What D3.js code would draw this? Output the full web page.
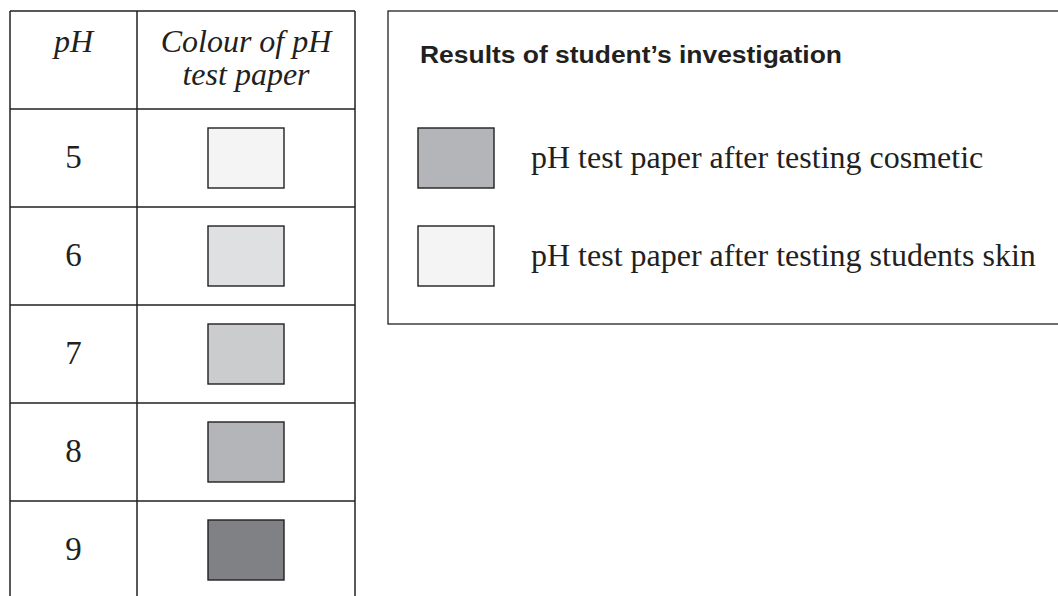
<!DOCTYPE html>
<html>
<head>
<meta charset="utf-8">
<script src="https://cdn.jsdelivr.net/npm/d3@7"></script>
<style>
  body { margin: 0; background: #fff; }
  svg { display: block; }
</style>
</head>
<body>
<div class="chart"></div>
<script>
const width = 1058;
const height = 596;

// data
const phValues = [5, 6, 7, 8, 9];
const paperColours = ['#f4f4f4', '#dfe0e2', '#cbcccd', '#b4b5b8', '#808184'];
const headerLines = [['pH'], ['Colour of pH', 'test paper']];
const legendTitle = 'Results of student\u2019s investigation';
const legendLabels = ['pH test paper after testing cosmetic', 'pH test paper after testing students skin'];
const legendColours = ['#b4b5b8', '#f4f4f4'];

const serif = '"Liberation Serif", "Times New Roman", serif';
const ink = '#231f20';

const svg = d3
  .select('.chart')
  .append('svg')
  .attr('width', width)
  .attr('height', height);

// table
const tableLeft = 10;
const colSplit = 137;
const tableRight = 355;
const tableTop = 11;
const headerBottom = 109;
const rowH = 98;

const y = d3
  .scaleBand()
  .domain(phValues)
  .range([headerBottom, headerBottom + rowH * phValues.length]);
const colour = d3.scaleOrdinal().domain(phValues).range(paperColours);

const table = svg.append('g');

// swatches
table
  .selectAll('.paper')
  .data(phValues)
  .enter()
  .append('rect')
  .attr('class', 'paper')
  .attr('x', 208)
  .attr('y', d => y(d) + 19)
  .attr('width', 76)
  .attr('height', 60)
  .attr('fill', d => colour(d))
  .attr('stroke', ink)
  .attr('stroke-width', 1.4);

table
  .selectAll('.ph')
  .data(phValues)
  .enter()
  .append('text')
  .attr('class', 'ph')
  .attr('x', (tableLeft + colSplit) / 2)
  .attr('y', d => y(d) + y.bandwidth() / 2 + 10)
  .attr('text-anchor', 'middle')
  .style('font-family', serif)
  .style('font-size', '33px')
  .attr('fill', ink)
  .text(d => d);

// header
const headerX = [(tableLeft + colSplit) / 2, (colSplit + tableRight) / 2];
headerLines.forEach((lines, i) => {
  table
    .append('text')
    .attr('x', headerX[i])
    .attr('y', 52)
    .attr('text-anchor', 'middle')
    .style('font-family', serif)
    .style('font-style', 'italic')
    .style('font-size', '32px')
    .attr('fill', ink)
    .selectAll('tspan')
    .data(lines)
    .enter()
    .append('tspan')
    .attr('x', headerX[i])
    .attr('dy', (d, j) => (j === 0 ? 0 : 33))
    .text(d => d);
});

// grid lines
const rowLines = [tableTop, headerBottom].concat(phValues.slice(1).map(d => y(d)));
table
  .selectAll('.hline')
  .data(rowLines)
  .enter()
  .append('line')
  .attr('x1', tableLeft)
  .attr('x2', tableRight)
  .attr('y1', d => d)
  .attr('y2', d => d)
  .attr('stroke', ink)
  .attr('stroke-width', 1.5);
table
  .selectAll('.vline')
  .data([tableLeft, colSplit, tableRight])
  .enter()
  .append('line')
  .attr('x1', d => d)
  .attr('x2', d => d)
  .attr('y1', tableTop)
  .attr('y2', height + 5)
  .attr('stroke', ink)
  .attr('stroke-width', 1.5);

// legend box
const legend = svg.append('g');
legend
  .append('rect')
  .attr('x', 388)
  .attr('y', 11)
  .attr('width', 700)
  .attr('height', 313)
  .attr('fill', 'none')
  .attr('stroke', ink)
  .attr('stroke-width', 1.3);

legend
  .append('text')
  .attr('x', 420)
  .attr('y', 63)
  .attr('textLength', 422)
  .attr('lengthAdjust', 'spacingAndGlyphs')
  .style('font-family', '"Liberation Sans", Arial, sans-serif')
  .style('font-weight', 'bold')
  .style('font-size', '23px')
  .attr('fill', ink)
  .text(legendTitle);

const ly = d3.scalePoint().domain(legendLabels).range([128, 226]);

const items = legend
  .selectAll('.item')
  .data(legendLabels)
  .enter()
  .append('g')
  .attr('class', 'item')
  .attr('transform', d => `translate(418, ${ly(d)})`);

items
  .append('rect')
  .attr('width', 76)
  .attr('height', 60)
  .attr('fill', (d, i) => legendColours[i])
  .attr('stroke', ink)
  .attr('stroke-width', 1.4);

items
  .append('text')
  .attr('x', 113)
  .attr('y', 40)
  .style('font-family', serif)
  .style('font-size', '32px')
  .attr('fill', ink)
  .text(d => d);
</script>
</body>
</html>
